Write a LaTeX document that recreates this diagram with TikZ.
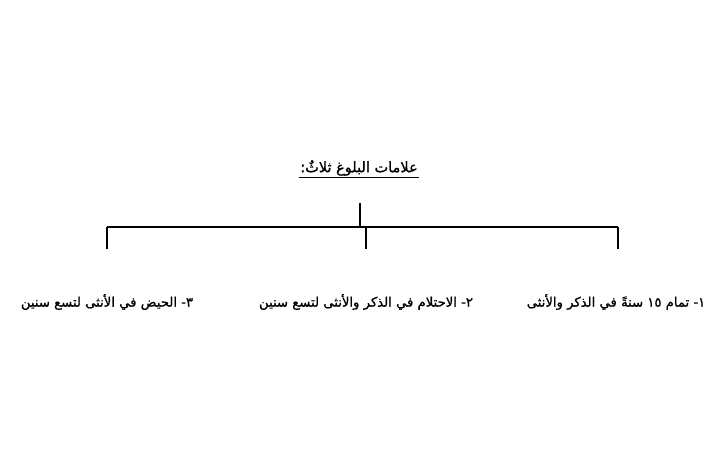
\documentclass[tikz,border=0pt]{standalone}
\usepackage{fontspec}
\newfontfamily\arabicfont[Script=Arabic,FakeBold=1]{DejaVu Sans}
\TeXXeTstate=1
\begin{document}
\begin{tikzpicture}[x=1pt,y=-1pt,
  lbl/.style={font=\arabicfont\fontsize{13.2}{15}\selectfont,inner sep=0pt},
  ttl/.style={font=\arabicfont\fontsize{14.5}{16}\selectfont,inner sep=0pt},
  conn/.style={line width=1.8pt}]
\useasboundingbox (0,0) rectangle (720,454);
\fill[white] (0,0) rectangle (720,454);
\node[ttl] (title) at (359,168) {\beginR علامات البلوغ ثلاثٌ:\endR};
\draw[line width=1pt] ([yshift=-2pt,xshift=-1pt]title.south west) -- ([yshift=-2pt,xshift=1pt]title.south east);
\node[lbl] (i1) at (616,302) {\beginR ١\kern0pt- تمام ١٥ سنةً في الذكر والأنثى\endR};
\node[lbl] (i2) at (366,302) {\beginR ٢\kern0pt- الاحتلام في الذكر والأنثى لتسع سنين\endR};
\node[lbl] (i3) at (107,302) {\beginR ٣\kern0pt- الحيض في الأنثى لتسع سنين\endR};
\coordinate (top) at (360,203);
\coordinate (jn) at (360,227);
\coordinate (hl) at (107,227);
\coordinate (hr) at (618,227);
\coordinate (hm) at (366,227);
\coordinate (d1) at (107,249);
\coordinate (d2) at (366,249);
\coordinate (d3) at (618,249);
\draw[conn] (top) -- (jn);
\draw[conn] (hl) -- (hr);
\draw[conn] (hl) -- (d1);
\draw[conn] (hm) -- (d2);
\draw[conn] (hr) -- (d3);
\end{tikzpicture}
\end{document}
